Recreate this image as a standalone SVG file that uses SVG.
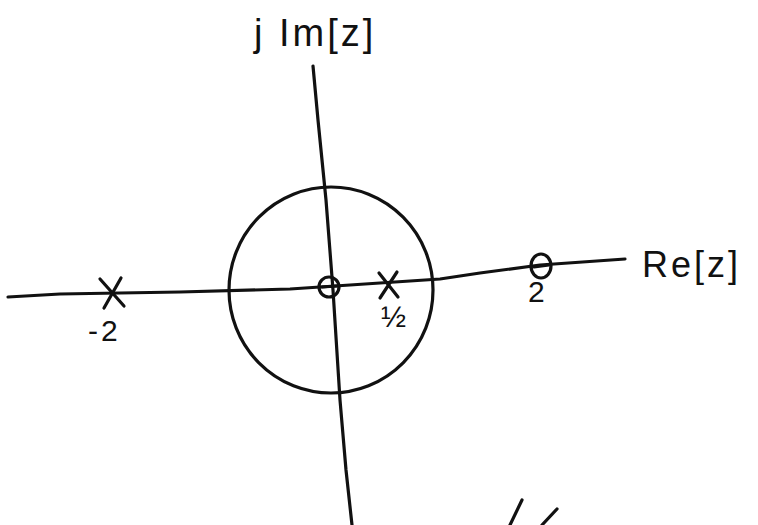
<svg xmlns="http://www.w3.org/2000/svg" width="758" height="525" viewBox="0 0 758 525">
<style>
.ln{fill:none;stroke:#111;stroke-width:3.2;stroke-linecap:round;stroke-linejoin:round}
.tx{font-family:"Liberation Sans","DejaVu Sans",sans-serif;fill:#111}
</style>
<rect width="758" height="525" fill="#fff"/>
<g id="connectors">
<path id="re-axis" class="ln" d="M8,297 L60,294 L180,292 L290,289 L440,279 L480,273 L540,265 L625,259"/>
<path id="im-axis" class="ln" d="M313,66 L318,120 L326,200 L333,290 L340,400 L346,470 L352,525"/>
</g>
<g id="unit-circle">
<ellipse class="ln" cx="331" cy="290" rx="102" ry="103"/>
</g>
<g id="zero-0">
<circle class="ln" cx="329" cy="287" r="10"/>
<path class="ln" d="M322,287 L337,286"/>
</g>
<g id="pole-half">
<path class="ln" d="M379,273 L398,297 M397,272 L380,298"/>
<text class="tx" x="381" y="327" font-size="30">½</text>
</g>
<g id="pole-minus2">
<path class="ln" d="M100,279 L124,306 M121,278 L104,308"/>
<text class="tx" x="88" y="341" font-size="30" letter-spacing="3">-2</text>
</g>
<g id="zero-2">
<ellipse class="ln" cx="541" cy="266" rx="10" ry="12"/>
<path class="ln" d="M534,267 L549,265"/>
<text class="tx" x="528" y="302" font-size="30">2</text>
</g>
<g id="labels">
<text class="tx" x="254" y="46" font-size="38" letter-spacing="3">j Im[z]</text>
<text class="tx" x="642" y="277" font-size="36" letter-spacing="3">Re[z]</text>
<path class="ln" d="M522,500 L510,525 M557,509 L542,525"/>
</g>
</svg>
